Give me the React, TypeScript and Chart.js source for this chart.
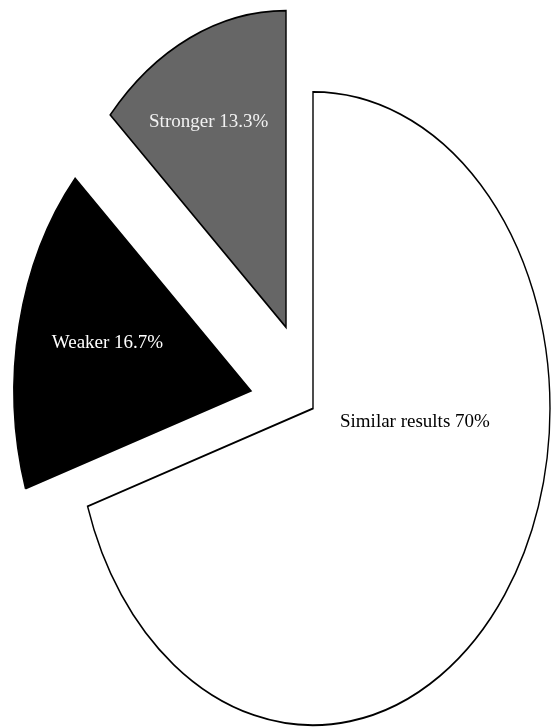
import React, { useEffect, useRef } from "react";
import { Chart, registerables } from "chart.js";

Chart.register(...registerables);

const categories = ["Similar results", "Weaker", "Stronger"];
const values = [70, 16.7, 13.3];
const valueLabels = ["Similar results 70%", "Weaker 16.7%", "Stronger 13.3%"];

const fills = ["#ffffff", "#000000", "#666666"];
const textColors = ["#000000", "#ffffff", "#f2f2f2"];
const explode = [0, 63.5, 66.5];
// label placement: fraction along slice angle, fraction of radius
const labelAngleFrac = [0.379, 0.534, 0.443];
const labelRadiusFrac = [0.432, 0.624, 0.727];
const Y_STRETCH = 1.336;

const ellipsePlugin = {
  id: "ellipsePie",
  beforeDatasetsDraw(chart: any) {
    const ctx = chart.ctx as CanvasRenderingContext2D;
    const meta = chart.getDatasetMeta(0);
    meta.data.forEach((arc: any, i: number) => {
      const { x, y, startAngle, endAngle } = arc.getProps(["x", "y", "startAngle", "endAngle"]);
      const mid = (startAngle + endAngle) / 2;
      const off = explode[i] || 0;
      ctx.save();
      ctx.translate(x, y);
      ctx.scale(1, Y_STRETCH);
      ctx.translate(Math.cos(mid) * off, Math.sin(mid) * off);
      ctx.translate(-x, -y);
      arc.draw(ctx);
      ctx.restore();
    });
    meta.data.forEach((arc: any, i: number) => {
      const { x, y, startAngle, endAngle, outerRadius } = arc.getProps([
        "x",
        "y",
        "startAngle",
        "endAngle",
        "outerRadius",
      ]);
      const mid = (startAngle + endAngle) / 2;
      const off = explode[i] || 0;
      const a = startAngle + labelAngleFrac[i] * (endAngle - startAngle);
      const r = labelRadiusFrac[i] * outerRadius;
      const lx = x + Math.cos(mid) * off + Math.cos(a) * r;
      const ly = y + (Math.sin(mid) * off + Math.sin(a) * r) * Y_STRETCH;
      ctx.save();
      ctx.font = '19px "Liberation Serif", "Times New Roman", serif';
      ctx.fillStyle = textColors[i];
      ctx.textAlign = "center";
      ctx.textBaseline = "middle";
      ctx.fillText(valueLabels[i], lx, ly);
      ctx.restore();
    });
    return false;
  },
};

export default function App() {
  const ref = useRef<HTMLCanvasElement | null>(null);
  useEffect(() => {
    if (!ref.current) return;
    const chart = new Chart(ref.current, {
      type: "pie",
      data: {
        labels: categories,
        datasets: [
          {
            data: values,
            backgroundColor: fills,
            borderColor: "#000000",
            borderWidth: 1.4,
            borderJoinStyle: "miter",
            offset: 0,
          } as any,
        ],
      },
      options: {
        animation: false,
        responsive: false,
        radius: 237,
        layout: { padding: { left: 75, right: 0, top: 90, bottom: 0 } },
        plugins: {
          legend: { display: false },
          tooltip: { enabled: false },
        },
      } as any,
      plugins: [ellipsePlugin],
    });
    return () => chart.destroy();
  }, []);
  return (
    <div style={{ position: "absolute", left: 0, top: 0, width: 551, height: 727, background: "#fff" }}>
      <canvas ref={ref} width={551} height={727} />
    </div>
  );
}
